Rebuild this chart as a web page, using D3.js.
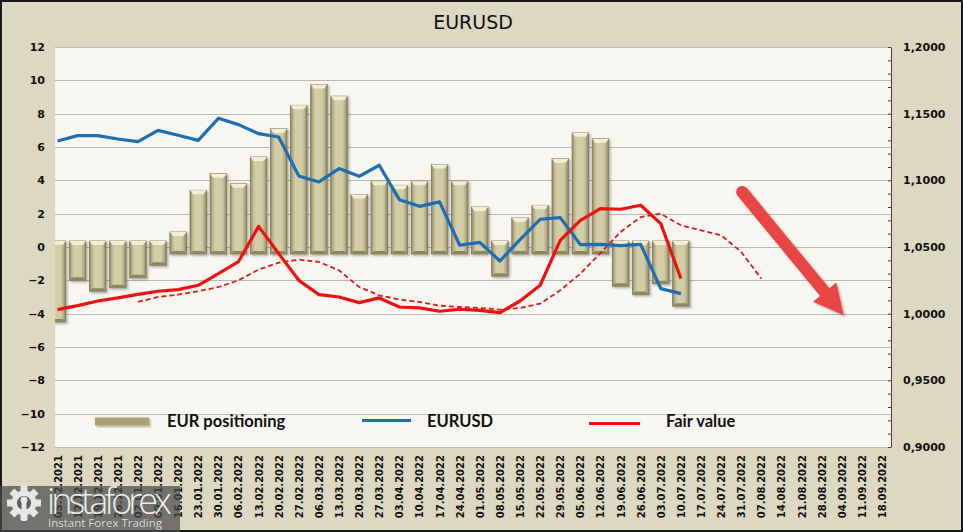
<!DOCTYPE html>
<html>
<head>
<meta charset="utf-8">
<script src="https://cdn.jsdelivr.net/npm/d3@7"></script>
<style>
	body { margin: 0; background: #fff; }
	svg text { font-family: "DejaVu Sans", Verdana, sans-serif; }
	.tick text { font-weight: bold; fill: #111; }
	.legend text { font-family: Lato, "Open Sans", sans-serif; font-weight: bold; font-size: 16.5px; fill: #111; }
</style>
</head>
<body>
<script>
/* weekly dates on the category axis */
var dates = ["05.12.2021","12.12.2021","19.12.2021","26.12.2021","02.01.2022","09.01.2022","16.01.2022",
	"23.01.2022","30.01.2022","06.02.2022","13.02.2022","20.02.2022","27.02.2022","06.03.2022",
	"13.03.2022","20.03.2022","27.03.2022","03.04.2022","10.04.2022","17.04.2022","24.04.2022",
	"01.05.2022","08.05.2022","15.05.2022","22.05.2022","29.05.2022","05.06.2022","12.06.2022",
	"19.06.2022","26.06.2022","03.07.2022","10.07.2022","17.07.2022","24.07.2022","31.07.2022",
	"07.08.2022","14.08.2022","21.08.2022","28.08.2022","04.09.2022","11.09.2022","18.09.2022"];

/* EUR positioning (left axis) */
var positioning = [-4.5,-2.0,-2.65,-2.45,-1.85,-1.1,0.9,3.4,4.4,3.8,5.4,7.1,8.5,9.75,
	9.05,3.15,3.95,3.7,3.95,4.95,3.95,2.4,-1.75,1.75,2.5,5.3,6.85,6.5,-2.35,-2.85,-2.2,-3.55];

/* EURUSD (right axis) */
var eurusd = [1.1295,1.1335,1.1335,1.131,1.129,1.1375,1.1338,1.130,1.1465,1.1418,1.135,1.1325,
	1.1033,1.0988,1.1088,1.103,1.1113,1.0855,1.0805,1.0838,1.0513,1.0535,1.0395,1.0555,1.0708,
	1.072,1.0518,1.052,1.051,1.052,1.0188,1.015];

/* Fair value (right axis) */
var fairValue = [1.003,1.006,1.0095,1.0118,1.0145,1.0168,1.018,1.0213,1.03,1.039,1.0655,1.045,
	1.025,1.0143,1.0125,1.0083,1.0118,1.005,1.0043,1.0018,1.0033,1.0025,1.0008,1.0095,1.0213,
	1.055,1.07,1.0788,1.0783,1.0813,1.0675,1.0263];

/* Fair value smoothed, starts at the 5th week */
var fairStart = 4;
var fairSmooth = [1.0088,1.0125,1.0143,1.0168,1.02,1.025,1.033,1.0383,1.0405,1.0388,1.0325,1.02,
	1.0138,1.0105,1.0088,1.006,1.005,1.0043,1.003,1.0043,1.0075,1.0175,1.03,1.0455,1.0613,1.0725,
	1.075,1.0663,1.0625,1.0588,1.0463,1.0263];

var leftTicks = d3.range(-12, 13, 2);
var rightTicks = [0.90,0.95,1.00,1.05,1.10,1.15,1.20];
/* forecast arrow: [week index, price] */
var arrowFrom = [34.05, 1.0913];
var arrowTo = [39.1, 0.9988];

var W = 963, H = 532;
var plot = {left: 55, right: 891, top: 47, bottom: 447};

var svg = d3.select("body").append("svg")
	.attr("width", W)
	.attr("height", H);

var defs = svg.append("defs");
var grad = defs.append("linearGradient").attr("id", "barGrad").attr("x1", 0).attr("x2", 1).attr("y1", 0).attr("y2", 0);
[[0,"#8a8460"],[0.14,"#bbb48c"],[0.3,"#d4cea8"],[0.7,"#d2cca5"],[0.86,"#b6af87"],[1,"#857f5b"]].forEach(function(s){
	grad.append("stop").attr("offset", s[0]).attr("stop-color", s[1]);
});
defs.append("clipPath").attr("id", "plotClip").append("rect")
	.attr("x", plot.left).attr("y", plot.top)
	.attr("width", plot.right - plot.left).attr("height", plot.bottom - plot.top);
var shadow = defs.append("filter").attr("id", "shadow").attr("x", "-20%").attr("y", "-20%").attr("width", "150%").attr("height", "150%");
shadow.append("feDropShadow").attr("dx", 1.5).attr("dy", 1.5).attr("stdDeviation", 1.2).attr("flood-color", "#000").attr("flood-opacity", 0.3);

// background
svg.append("rect").attr("x", 1).attr("y", 1).attr("width", W - 2).attr("height", H - 2)
	.attr("fill", "#dcd8c2").attr("stroke", "#1a1a1a").attr("stroke-width", 2);
svg.append("rect").attr("x", plot.left).attr("y", plot.top)
	.attr("width", plot.right - plot.left).attr("height", plot.bottom - plot.top)
	.attr("fill", "#f8f6f1");

// title
svg.append("text").attr("x", 473).attr("y", 29).attr("text-anchor", "middle")
	.style("font-size", "19px").attr("fill", "#111").text("EURUSD");

var x = d3.scalePoint().domain(dates).range([57.5, 882]);
var yL = d3.scaleLinear().domain([-12, 12]).range([plot.bottom, plot.top]);
var yR = d3.scaleLinear().domain([0.9, 1.2]).range([plot.bottom, plot.top]);

// gridlines
svg.append("g").selectAll("line").data(leftTicks).enter().append("line")
	.attr("x1", plot.left).attr("x2", plot.right)
	.attr("y1", function(d){ return Math.round(yL(d)) + 0.5; })
	.attr("y2", function(d){ return Math.round(yL(d)) + 0.5; })
	.attr("stroke", "#b9b8b2").attr("stroke-width", 1);

// left axis labels
var gL = svg.append("g").attr("transform", "translate(" + plot.left + ",0)")
	.call(d3.axisLeft(yL).tickValues(leftTicks).tickSize(0).tickPadding(10));
gL.select(".domain").remove();
gL.selectAll("text").style("font-size", "11px");

// right axis: line with minor ticks, then labels
var gR = svg.append("g").attr("transform", "translate(" + plot.right + ",0)")
	.call(d3.axisLeft(yR).tickValues(d3.range(0, 31).map(function(i){ return 0.9 + i * 0.01; })).tickSize(3).tickSizeOuter(0).tickFormat(""));
gR.selectAll("path, line").attr("stroke", "#5a3a2e");
var gR2 = svg.append("g").attr("transform", "translate(" + plot.right + ",0)")
	.call(d3.axisRight(yR).tickValues(rightTicks).tickSize(0).tickPadding(12)
		.tickFormat(function(d){ return d3.format(".4f")(d).replace(".", ","); }));
gR2.select(".domain").remove();
gR2.selectAll("text").style("font-size", "11px");

// category labels
var gX = svg.append("g").attr("transform", "translate(0," + (plot.bottom + 8) + ")")
	.call(d3.axisBottom(x).tickSize(0));
gX.select(".domain").remove();
gX.selectAll("text")
	.style("font-size", "10px")
	.attr("text-anchor", "end")
	.attr("transform", "rotate(-90)")
	.attr("x", 0).attr("y", 0).attr("dx", 0).attr("dy", "0.35em");

/* bars with bevel look */
var bw = 16.5;
var gB = svg.append("g").attr("clip-path", "url(#plotClip)");
var bars = gB.selectAll("g.bar").data(positioning).enter().append("g").attr("class", "bar")
	.attr("filter", "url(#shadow)");
function barBox(d, i) {
	var xc = x(dates[i]);
	var top = d > 0 ? yL(d) : yL(0) - 6;
	var bot = d > 0 ? yL(0) + 7 : yL(d);
	return {x0: xc - bw / 2, x1: xc + bw / 2, top: top, bot: bot};
}
bars.append("rect")
	.attr("x", function(d, i){ return barBox(d, i).x0; })
	.attr("y", function(d, i){ return barBox(d, i).top; })
	.attr("width", bw)
	.attr("height", function(d, i){ var b = barBox(d, i); return b.bot - b.top; })
	.attr("fill", "url(#barGrad)")
	.attr("stroke", "#7f7955").attr("stroke-width", 0.8);
bars.append("polygon")
	.attr("points", function(d, i){
		var b = barBox(d, i);
		return [[b.x0, b.top], [b.x1, b.top], [b.x1 - 3, b.top + 4], [b.x0 + 3, b.top + 4]].join(" ");
	})
	.attr("fill", "#f3efd6");
bars.append("polygon")
	.attr("points", function(d, i){
		var b = barBox(d, i);
		return [[b.x0, b.bot], [b.x1, b.bot], [b.x1 - 3, b.bot - 3], [b.x0 + 3, b.bot - 3]].join(" ");
	})
	.attr("fill", "#8d8761");

/* lines */
var gLines = svg.append("g").attr("clip-path", "url(#plotClip)");
function lineFor(offset) {
	return d3.line()
		.x(function(d, i){ return x(dates[i + offset]); })
		.y(function(d){ return yR(d); });
}
gLines.append("path").datum(fairSmooth)
	.attr("d", lineFor(fairStart))
	.attr("fill", "none").attr("stroke", "#d81e1e").attr("stroke-width", 1.8)
	.attr("stroke-dasharray", "5,3");
gLines.append("path").datum(eurusd)
	.attr("d", lineFor(0))
	.attr("fill", "none").attr("stroke", "#1f6db3").attr("stroke-width", 3.2)
	.attr("stroke-linejoin", "round");
gLines.append("path").datum(fairValue)
	.attr("d", lineFor(0))
	.attr("fill", "none").attr("stroke", "#ee1111").attr("stroke-width", 3.2)
	.attr("stroke-linejoin", "round");

/* forecast arrow */
var ax0 = x(dates[0]) + arrowFrom[0] * x.step(), ay0 = yR(arrowFrom[1]);
var ax1 = x(dates[0]) + arrowTo[0] * x.step(), ay1 = yR(arrowTo[1]);
var ang = Math.atan2(ay1 - ay0, ax1 - ax0);
var headLen = 30, headHalf = 15;
var bx = ax1 - headLen * Math.cos(ang), by = ay1 - headLen * Math.sin(ang);
var nx = -Math.sin(ang), ny = Math.cos(ang);
var gA = svg.append("g").attr("filter", "url(#shadow)");
gA.append("line")
	.attr("x1", ax0).attr("y1", ay0).attr("x2", bx + 2 * Math.cos(ang)).attr("y2", by + 2 * Math.sin(ang))
	.attr("stroke", "#e84444").attr("stroke-width", 12).attr("stroke-linecap", "round");
gA.append("polygon")
	.attr("points", [[ax1, ay1], [bx + nx * headHalf, by + ny * headHalf], [bx - nx * headHalf, by - ny * headHalf]].join(" "))
	.attr("fill", "#e84444");

/* legend */
var lg = svg.append("g").attr("class", "legend");
var ly = 421.5;
lg.append("rect").attr("x", 95).attr("y", ly - 4).attr("width", 54).attr("height", 8)
	.attr("fill", "#a8a070").attr("filter", "url(#shadow)");
lg.append("text").attr("x", 167).attr("y", ly + 5).text("EUR positioning");
lg.append("line").attr("x1", 362).attr("x2", 411).attr("y1", ly - 1).attr("y2", ly - 1)
	.attr("stroke", "#1f6db3").attr("stroke-width", 3);
lg.append("text").attr("x", 427).attr("y", ly + 5).text("EURUSD");
lg.append("line").attr("x1", 589).attr("x2", 640).attr("y1", ly + 2).attr("y2", ly + 2)
	.attr("stroke", "#ee1111").attr("stroke-width", 3);
lg.append("text").attr("x", 666).attr("y", ly + 5).text("Fair value");

/* watermark */
var wm = svg.append("g");
wm.append("rect").attr("x", 0).attr("y", 486).attr("width", 180).attr("height", 46)
	.attr("fill", "#4a4a4a").attr("opacity", 0.72);
var gear = wm.append("g").attr("transform", "translate(24,503)").attr("fill", "#e6e6e6");
d3.range(8).forEach(function(k){
	gear.append("rect").attr("x", -3.5).attr("y", -17).attr("width", 7).attr("height", 7)
		.attr("transform", "rotate(" + (k * 45) + ")");
});
gear.append("circle").attr("r", 12.5);
gear.append("circle").attr("r", 7).attr("fill", "#5a5a5a");
gear.append("rect").attr("x", -2.5).attr("y", -2).attr("width", 5).attr("height", 20).attr("fill", "#e6e6e6");
gear.append("circle").attr("cx", 0).attr("cy", -3).attr("r", 3.5).attr("fill", "#e6e6e6");
wm.append("text").attr("x", 47).attr("y", 514)
	.style("font-family", "'Open Sans', sans-serif").style("font-size", "36px").style("font-weight", 300)
	.attr("fill", "#ececec").attr("textLength", 125).text("instaforex");
wm.append("text").attr("x", 48).attr("y", 527)
	.style("font-family", "'Open Sans', sans-serif").style("font-size", "11.5px")
	.attr("fill", "#d8d8d8").text("Instant Forex Trading");
</script>
</body>
</html>
